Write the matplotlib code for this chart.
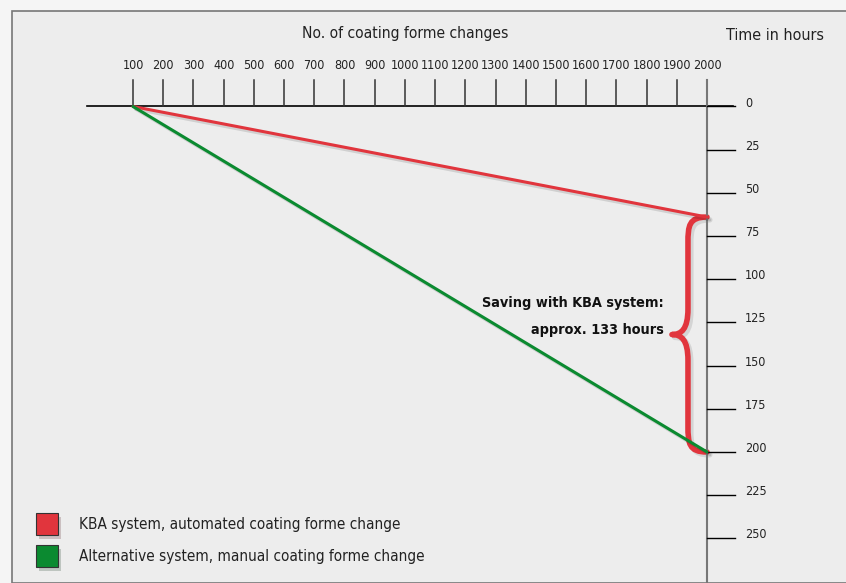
import numpy as np
import matplotlib
matplotlib.use("Agg")
import matplotlib.pyplot as plt
import matplotlib.patheffects as pe
from matplotlib.path import Path
from matplotlib.patches import PathPatch, Rectangle

plt.rcParams['font.family'] = ['DejaVu Sans']
plt.rcParams['font.stretch'] = 'condensed'

# data
changes = [100, 200, 300, 400, 500, 600, 700, 800, 900, 1000,
           1100, 1200, 1300, 1400, 1500, 1600, 1700, 1800, 1900, 2000]
hour_ticks = [0, 25, 50, 75, 100, 125, 150, 175, 200, 225, 250]
kba_hours = [0, 64]         # start, end (at 100 and 2000 changes)
alt_hours = [0, 200]
saving_text = ["Saving with KBA system:", "approx. 133 hours"]
legend_labels = ["KBA system, automated coating forme change",
                 "Alternative system, manual coating forme change"]

red = "#e1353d"
green = "#0b8a30"

W, H = 846, 583
fig = plt.figure(figsize=(W / 100, H / 100), dpi=100, facecolor="#f5f5f5")

# panel
fig.patches.append(Rectangle((12 / W, 0), 1, 1 - 11 / H, transform=fig.transFigure,
                             facecolor="#ededed", edgecolor="#777777", lw=1.2, zorder=-5))

ax = fig.add_axes([0, 0, 1, 1])
ax.set_axis_off()
ax.patch.set_alpha(0)

# pixel mapping: index 0 -> x=133, index 19 -> x=707 ; 0 h -> y=106.5, 200 h -> y=452
dx = (707 - 133) / (len(changes) - 1)
dy = (452 - 106.5) / 200
ax.set_xlim(-133 / dx, (W - 133) / dx)
ax.set_ylim((H - 106.5) / dy, -106.5 / dy)

n = len(changes) - 1
xi = np.arange(len(changes))

# top axis
ax.plot([-1.52, n + 0.86], [0, 0], color="black", lw=1.2)
for i, c in zip(xi, changes):
    ax.plot([i, i], [0, -15.5], color="#333333", lw=1.1)
    ax.text(i, -24, str(c), ha="center", va="center", fontsize=9, color="#222222")
ax.text(n / 2 - 0.5, -42, "No. of coating forme changes", ha="center", va="center",
        fontsize=11.2, color="#222222")

# right axis
ax.plot([n, n], [-15.5, 300], color="#777777", lw=1.5)
for h in hour_ticks:
    ax.plot([n, n + 0.93], [h, h], color="black", lw=1.0)
    ax.text(n + 1.25, h - 2, str(h), ha="left", va="center", fontsize=9, color="#222222")
ax.text(n + 2.25, -41, "Time in hours", ha="center", va="center",
        fontsize=11.5, color="#222222")

shadow = [pe.SimpleLineShadow(offset=(2, -2), alpha=0.12, shadow_color="black"), pe.Normal()]

ax.plot([0, n], kba_hours, color=red, lw=2.2, solid_capstyle="round", path_effects=shadow)
ax.plot([0, n], alt_hours, color=green, lw=2.2, solid_capstyle="round", path_effects=shadow)

# brace between the two end values
yt, yb = kba_hours[-1], alt_hours[-1]
mid = (yt + yb) / 2
xb, xt = n - 0.63, n - 1.16
verts = [(n, yt),
         (n - 0.6, yt), (xb, yt + 5), (xb, yt + 15),
         (xb, mid - 15),
         (xb, mid - 3), (n - 0.85, mid), (xt, mid),
         (n - 0.85, mid), (xb, mid + 3), (xb, mid + 15),
         (xb, yb - 15),
         (xb, yb - 5), (n - 0.6, yb), (n, yb)]
codes = [Path.MOVETO] + [Path.CURVE4] * 3 + [Path.LINETO] + [Path.CURVE4] * 6 + \
        [Path.LINETO] + [Path.CURVE4] * 3
ax.add_patch(PathPatch(Path(verts, codes), facecolor="none", edgecolor=red, lw=4,
                       capstyle="round", joinstyle="round",
                       path_effects=[pe.SimpleLineShadow(offset=(2, -2), alpha=0.1,
                                                         shadow_color="black"),
                                     pe.Normal()]))

ax.text(xt - 0.28, mid - 18.2, saving_text[0], ha="right", va="center",
        fontsize=10.4, fontweight="bold", color="#111111")
ax.text(xt - 0.28, mid - 2.6, saving_text[1], ha="right", va="center",
        fontsize=10.4, fontweight="bold", color="#111111")

# legend
for k, (lab, col) in enumerate(zip(legend_labels, [red, green])):
    ly = 524 + k * 32
    fig.patches.append(Rectangle((36 / W, 1 - (ly + 11) / H), 22 / W, 22 / H,
                                 transform=fig.transFigure, facecolor=col,
                                 edgecolor="#333333", lw=0.8,
                                 path_effects=[pe.SimplePatchShadow(offset=(2, -3), alpha=0.2),
                                               pe.Normal()]))
    fig.text(79 / W, 1 - ly / H, lab, ha="left", va="center", fontsize=11, color="#222222")

fig.savefig("out.png", dpi=100, facecolor=fig.get_facecolor())
